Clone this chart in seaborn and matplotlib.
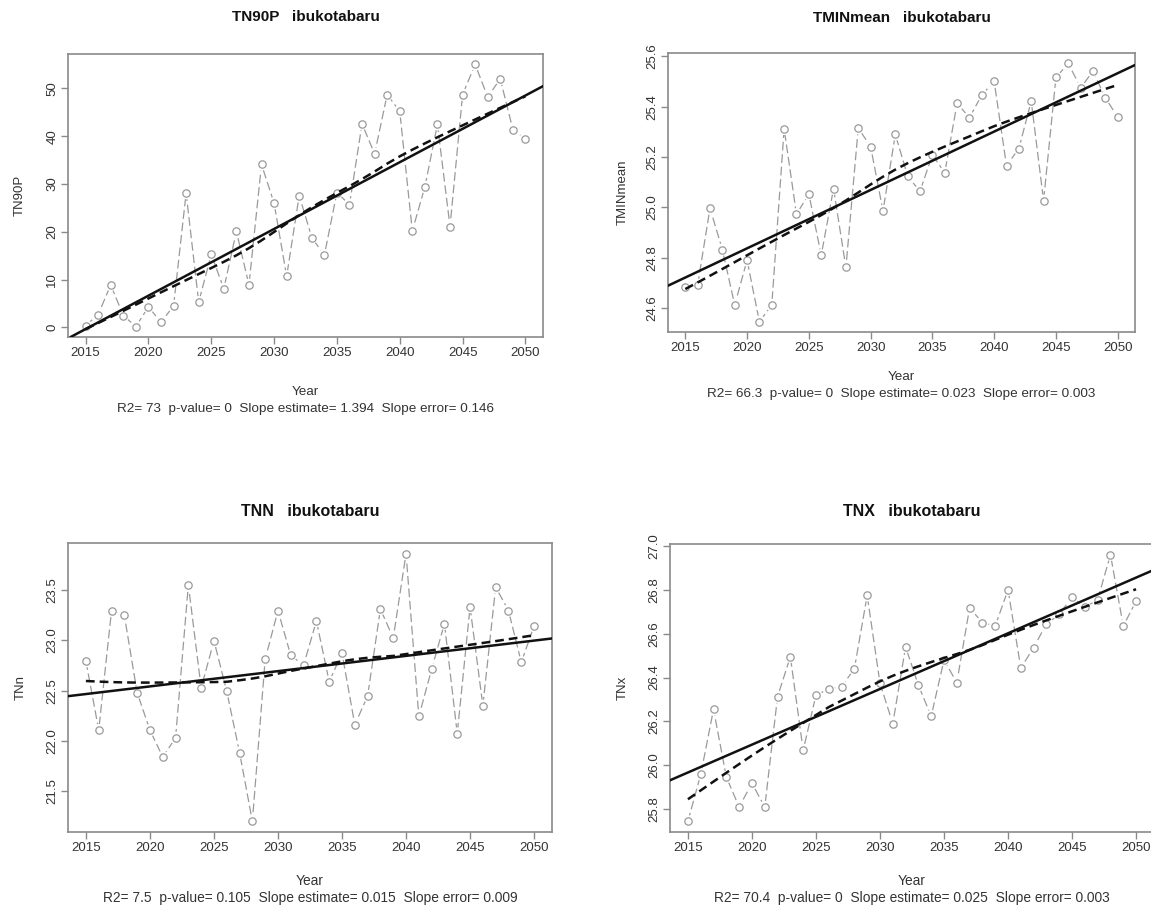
import numpy as np
import pandas as pd
import matplotlib
matplotlib.use("Agg")
import matplotlib.pyplot as plt
import seaborn as sns

# values
years = np.arange(2015, 2051)

tn90p = [0.4, 2.7, 8.9, 2.5, 0.2, 4.3, 1.1, 4.5, 28.1, 5.3, 15.3, 8.1, 20.1, 8.9,
         34.1, 26.0, 10.7, 27.6, 18.8, 15.1, 28.2, 25.7, 42.6, 36.3, 48.7, 45.2,
         20.2, 29.4, 42.5, 21.1, 48.7, 55.0, 48.2, 52.0, 41.4, 39.4]

tminmean = [24.685, 24.693, 24.997, 24.833, 24.613, 24.791, 24.547, 24.613, 25.312,
            24.973, 25.054, 24.810, 25.075, 24.762, 25.315, 25.242, 24.986, 25.290,
            25.124, 25.064, 25.210, 25.137, 25.414, 25.356, 25.447, 25.500, 25.166,
            25.234, 25.422, 25.027, 25.516, 25.572, 25.475, 25.541, 25.435, 25.359]

tnn = [22.793, 22.107, 23.297, 23.250, 22.480, 22.107, 21.840, 22.030, 23.553,
       22.527, 22.997, 22.493, 21.883, 21.200, 22.813, 23.297, 22.850, 22.753,
       23.193, 22.590, 22.873, 22.160, 22.447, 23.313, 23.023, 23.863, 22.243,
       22.713, 23.167, 22.073, 23.333, 22.350, 23.530, 23.297, 22.783, 23.143]

tnx = [25.745, 25.959, 26.255, 25.947, 25.810, 25.919, 25.810, 26.313, 26.495,
       26.068, 26.320, 26.348, 26.359, 26.440, 26.775, 26.374, 26.190, 26.540,
       26.365, 26.224, 26.480, 26.377, 26.718, 26.650, 26.635, 26.800, 26.443,
       26.537, 26.645, 26.688, 26.767, 26.720, 26.755, 26.960, 26.635, 26.748]

titles = ["TN90P   ibukotabaru", "TMINmean   ibukotabaru",
          "TNN   ibukotabaru", "TNX   ibukotabaru"]
ylabels = ["TN90P", "TMINmean", "TNn", "TNx"]
stats_lines = [
    "R2= 73  p-value= 0  Slope estimate= 1.394  Slope error= 0.146",
    "R2= 66.3  p-value= 0  Slope estimate= 0.023  Slope error= 0.003",
    "R2= 7.5  p-value= 0.105  Slope estimate= 0.015  Slope error= 0.009",
    "R2= 70.4  p-value= 0  Slope estimate= 0.025  Slope error= 0.003",
]
yticks = [np.arange(0, 51, 10), np.arange(24.6, 25.61, 0.2),
          np.arange(21.5, 23.51, 0.5), np.arange(25.8, 27.01, 0.2)]
ytick_fmt = ["{:.0f}", "{:.1f}", "{:.1f}", "{:.1f}"]


def lowess(x, y, f=2/3, iters=3):
    # same idea as R's lowess(): local linear fit with robustness iterations
    x = np.asarray(x, float)
    y = np.asarray(y, float)
    n = len(x)
    r = int(round(f * n))
    h = np.array([np.sort(np.abs(x - x[i]))[r - 1] for i in range(n)])
    w = np.clip(np.abs((x[:, None] - x[None, :]) / h), 0.0, 1.0)
    w = (1 - w ** 3) ** 3
    yest = np.zeros(n)
    delta = np.ones(n)
    for _ in range(iters + 1):
        for i in range(n):
            wt = delta * w[:, i]
            A = np.array([[wt.sum(), (wt * x).sum()],
                          [(wt * x).sum(), (wt * x * x).sum()]])
            b = np.array([(wt * y).sum(), (wt * y * x).sum()])
            beta = np.linalg.solve(A, b)
            yest[i] = beta[0] + beta[1] * x[i]
        res = y - yest
        s = np.median(np.abs(res))
        delta = np.clip(res / (6.0 * s), -1, 1)
        delta = (1 - delta ** 2) ** 2
    return yest


sns.set_style("white")
plt.rcParams["font.family"] = ["Liberation Sans", "DejaVu Sans"]

W, H = 1151, 906
fig = plt.figure(figsize=(W / 100, H / 100), dpi=100)

# axes boxes in pixels: left, top, right, bottom
boxes = [(68, 54, 543, 337), (668, 53, 1135, 332),
         (68, 543, 552, 832), (670, 544, 1154, 832)]
# y of title, Year label and stats line in pixels
text_y = [(17, 392, 409), (18, 377, 394), (512, 881, 898), (512, 881, 898)]
ylabel_x = [20, 623, 21, 623]
title_size = [11, 11, 11.5, 11.5]
note_size = [9.7, 9.7, 9.9, 9.9]

series = [tn90p, tminmean, tnn, tnx]
gray = "#9a9a9a"
frame = "#8a8a8a"

for k, vals in enumerate(series):
    l, t, r, b = boxes[k]
    ax = fig.add_axes([l / W, 1 - b / H, (r - l) / W, (b - t) / H])
    df = pd.DataFrame({"year": years, "value": vals})
    xc = years - years.mean()

    sns.lineplot(data=df, x="year", y="value", ax=ax, color=gray, lw=0.9,
                 linestyle=(0, (7, 3)), zorder=2)
    sns.scatterplot(data=df, x="year", y="value", ax=ax, s=80, color="white",
                    edgecolor="none", zorder=3)
    sns.scatterplot(data=df, x="year", y="value", ax=ax, s=28, facecolor="white",
                    edgecolor=gray, linewidth=0.9, zorder=4)

    smooth = lowess(xc, df["value"].values)
    sns.lineplot(x=years, y=smooth, ax=ax, color="#111111", lw=1.8,
                 linestyle=(0, (3.5, 2)), zorder=5)

    slope, intercept = np.polyfit(years, df["value"].values, 1)
    ax.axline((years[0], intercept + slope * years[0]), slope=slope,
              color="#111111", lw=1.8, zorder=6)

    span = max(vals) - min(vals)
    ax.set_xlim(2015 - 35 * 0.04, 2050 + 35 * 0.04)
    ax.set_ylim(min(vals) - 0.04 * span, max(vals) + 0.04 * span)

    ax.set_xticks(np.arange(2015, 2051, 5))
    ax.set_yticks(yticks[k])
    ax.set_yticklabels([ytick_fmt[k].format(v) for v in yticks[k]])
    ax.tick_params(axis="both", direction="out", length=5, width=1,
                   color=frame, labelcolor="#333333", labelsize=9.5, pad=2,
                   left=True, bottom=True)
    plt.setp(ax.get_yticklabels(), rotation=90, va="center")
    for sp in ax.spines.values():
        sp.set_color(frame)
        sp.set_linewidth(1.2)

    ax.set_xlabel("")
    ax.set_ylabel("")

    cx = (l + r) / 2 / W
    ty, yy, sy = text_y[k]
    fig.text(ylabel_x[k] / W, 1 - (t + b) / 2 / H, ylabels[k], rotation=90,
             ha="center", va="center", fontsize=9.5, color="#333333")
    fig.text(cx, 1 - ty / H, titles[k], ha="center", va="center",
             fontsize=title_size[k], fontweight="bold", color="#111111")
    fig.text(cx, 1 - yy / H, "Year", ha="center", va="center",
             fontsize=note_size[k], color="#333333")
    fig.text(cx, 1 - sy / H, stats_lines[k], ha="center", va="center",
             fontsize=note_size[k], color="#333333")

fig.savefig("out.png", dpi=100)
